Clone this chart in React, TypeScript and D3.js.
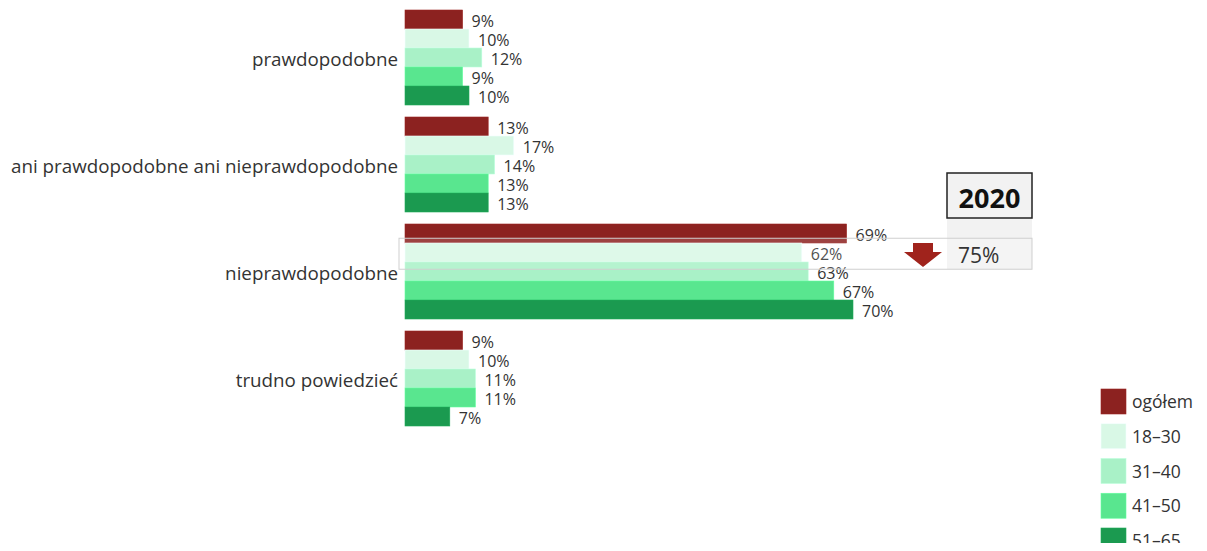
import React from "react";
import * as d3 from "d3";

const categories = ["prawdopodobne", "ani prawdopodobne ani nieprawdopodobne", "nieprawdopodobne", "trudno powiedzieć"];
const seriesNames = ["ogółem", "18–30", "31–40", "41–50", "51–65"];
const seriesColors = ["#8c2220", "#d9f8e6", "#a9f1c7", "#59e68f", "#1b9a50"];
const values: number[][] = [
  [9, 10, 12, 9, 10],
  [13, 17, 14, 13, 13],
  [69, 62, 63, 67, 70],
  [9, 10, 11, 11, 7],
];
const compareYear = "2020";
const compareValue = "75%";

const W = 1207;
const H = 551;
const FONT = "'Open Sans', 'DejaVu Sans', sans-serif";

export default function App() {
  const x = d3.scaleLinear().domain([0, 100]).range([405, 1045]);
  const y = d3.scaleBand<string>().domain(categories).range([4, 432]).paddingInner(12 / 107).paddingOuter(6 / 107);
  const inner = d3.scaleBand<string>().domain(seriesNames).range([0, y.bandwidth()]);
  const legendY = d3.scalePoint<string>().domain(seriesNames).range([389, 528]);

  const hiCat = categories[2];
  const rowTop = (y(hiCat) as number) + inner.bandwidth() * 0.75;
  const rowBot = rowTop + 31;
  const boxX0 = 947;
  const boxX1 = 1032;

  return (
    <div style={{ margin: -8 }}>
      <svg width={W} height={H} style={{ display: "block", fontFamily: FONT }}>
        <rect width={W} height={H} fill="#fff" />
        {categories.map((c, ci) => (
          <g key={c}>
            <text x={398} y={(y(c) as number) + y.bandwidth() / 2 + 1} textAnchor="end" dominantBaseline="central" fontSize={18.8} fill="#333">
              {c}
            </text>
            {seriesNames.map((s, si) => {
              const v = values[ci][si];
              const y0 = (y(c) as number) + (inner(s) as number);
              return (
                <g key={s}>
                  <rect x={x(0)} y={y0} width={x(v) - x(0)} height={inner.bandwidth()} fill={seriesColors[si]} stroke={d3.color(seriesColors[si])!.brighter(0.3).toString()} strokeWidth={0.6} />
                  <text x={x(v) + 9} y={y0 + inner.bandwidth() / 2 + 1} dominantBaseline="central" fontSize={16} fill="#333">
                    {v}%
                  </text>
                </g>
              );
            })}
          </g>
        ))}

        {/* comparison overlay */}
        <rect x={boxX0} y={218} width={boxX1 - boxX0} height={rowBot - 218} fill="#f2f2f2" />
        <rect x={399} y={rowTop} width={boxX1 - 399} height={rowBot - rowTop} fill="#fff" fillOpacity={0.15} stroke="#cfcfcf" strokeWidth={1} />
        <rect x={boxX0} y={173} width={boxX1 - boxX0} height={45} fill="#f2f2f2" stroke="#222" strokeWidth={1.5} />
        <text x={(boxX0 + boxX1) / 2} y={197} textAnchor="middle" dominantBaseline="central" fontSize={27} fontWeight="bold" fill="#111">
          {compareYear}
        </text>
        <text x={958} y={(rowTop + rowBot) / 2 + 1} dominantBaseline="central" fontSize={21} fill="#333">
          {compareValue}
        </text>
        <path d={`M913,243 L933,243 L933,252 L942,252 L923,267 L904,252 L913,252 Z`} fill="#a0231c" />

        {/* legend */}
        {seriesNames.map((s, si) => {
          const ly = legendY(s) as number;
          return (
            <g key={s}>
              <rect x={1101} y={ly} width={25} height={25} fill={seriesColors[si]} stroke={d3.color(seriesColors[si])!.brighter(0.3).toString()} strokeWidth={0.6} />
              <text x={1132} y={ly + 12} dominantBaseline="central" fontSize={17.5} fill="#333">
                {s}
              </text>
            </g>
          );
        })}
      </svg>
    </div>
  );
}
